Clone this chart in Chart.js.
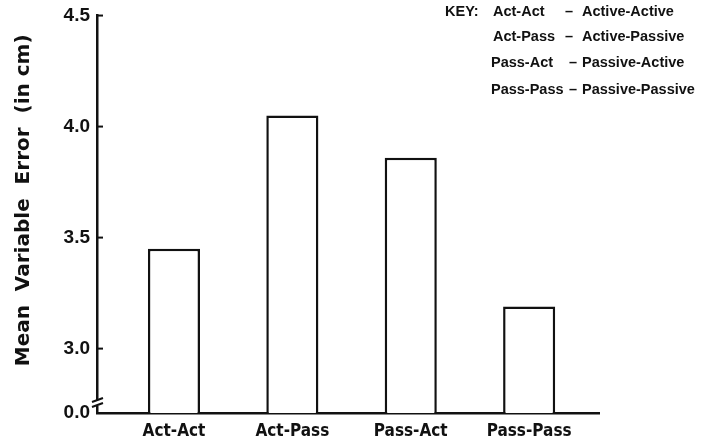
<!DOCTYPE html>
<html>
<head>
<meta charset="utf-8">
<script src="https://cdn.jsdelivr.net/npm/chart.js@4.4.1/dist/chart.umd.min.js"></script>
<style>
  html, body { margin: 0; padding: 0; background: #fff; }
</style>
</head>
<body>
<canvas id="graficoBarras" width="716" height="447"></canvas>
<script>
// Datos
const categorias = ["Act-Act", "Act-Pass", "Pass-Act", "Pass-Pass"];
const valores = [3.45, 4.05, 3.86, 3.19];
const ticksY = [3.0, 3.5, 4.0, 4.5];
const corteY = 2.71; // base del eje roto, se muestra como 0.0
const claveAbrev = ["Act-Act", "Act-Pass", "Pass-Act", "Pass-Pass"];
const claveNombre = ["Active-Active", "Active-Passive", "Passive-Active", "Passive-Passive"];

const tinta = "#111";
const fuente = "'Liberation Sans', Arial, sans-serif";
const fuenteAngosta = "'DejaVu Sans Condensed', 'Liberation Sans', Arial, sans-serif";

// Marcas hacia adentro, corte del eje y la clave
const extras = {
    id: "extras",
    afterDraw(chart) {
        const ctx = chart.ctx;
        const y = chart.scales.y;
        const left = chart.chartArea.left;
        ctx.save();
        ctx.strokeStyle = tinta;
        ctx.lineWidth = 2;
        ticksY.forEach(v => {
            const py = y.getPixelForValue(v);
            ctx.beginPath();
            ctx.moveTo(left, py);
            ctx.lineTo(left + 6, py);
            ctx.stroke();
        });

        // corte del eje
        const pb = y.getPixelForValue(corteY) - 10;
        ctx.fillStyle = "#fff";
        ctx.fillRect(left - 2, pb - 3, 4, 6);
        ctx.beginPath();
        ctx.moveTo(left - 5, pb - 1);
        ctx.lineTo(left + 6, pb - 5);
        ctx.moveTo(left - 5, pb + 4);
        ctx.lineTo(left + 6, pb);
        ctx.stroke();

        // clave
        ctx.fillStyle = tinta;
        ctx.font = "bold 14.5px " + fuente;
        ctx.textBaseline = "middle";
        const filas = [12, 37, 63, 90];
        ctx.fillText("KEY:", 445, filas[0]);
        claveAbrev.forEach((a, i) => {
            const xa = i < 2 ? 493 : 491;
            const xg = i < 2 ? 565 : 569;
            ctx.fillText(a, xa, filas[i]);
            ctx.fillText("\u2013", xg, filas[i]);
            ctx.fillText(claveNombre[i], 582, filas[i]);
        });
        ctx.restore();
    }
};

const ctx = document.getElementById("graficoBarras").getContext("2d");
const chart = new Chart(ctx, {
    type: "bar",
    data: {
        datasets: [{
            data: valores.map((v, i) => ({ x: i, y: v })),
            base: corteY,
            backgroundColor: "#fff",
            borderColor: tinta,
            borderWidth: 2.5,
            borderSkipped: "start",
            barPercentage: 0.44,
            categoryPercentage: 1
        }]
    },
    options: {
        responsive: false,
        animation: false,
        layout: { padding: { top: 9, right: 117, left: 0, bottom: 0 } },
        plugins: {
            legend: { display: false },
            tooltip: { enabled: false }
        },
        scales: {
            x: {
                type: "linear",
                offset: false,
                min: -0.65,
                max: 3.59,
                afterBuildTicks: scale => {
                    scale.ticks = categorias.map((c, i) => ({ value: i }));
                },
                afterFit: scale => { scale.height = 34; },
                grid: { display: false, drawTicks: false },
                border: { display: true, color: tinta, width: 2.5 },
                ticks: {
                    color: tinta,
                    padding: 10,
                    autoSkip: false,
                    maxRotation: 0,
                    font: { family: fuenteAngosta, size: 17, weight: "bold", lineHeight: 1 },
                    callback: v => categorias[v]
                }
            },
            y: {
                min: corteY,
                max: 4.5,
                afterBuildTicks: scale => {
                    scale.ticks = [corteY, ...ticksY].map(v => ({ value: v }));
                },
                afterFit: scale => { scale.width = 97; },
                grid: { display: false, drawTicks: false },
                border: { display: true, color: tinta, width: 2.5 },
                ticks: {
                    color: tinta,
                    padding: 7,
                    font: { family: fuente, size: 19, weight: "bold", lineHeight: 0.9 },
                    callback: v => v < 3 ? "0.0" : v.toFixed(1)
                },
                title: {
                    display: true,
                    text: "    Mean  Variable  Error  (in cm)",
                    color: tinta,
                    padding: { top: 12, bottom: 0 },
                    font: { family: "'DejaVu Sans', sans-serif", size: 20, weight: "bold", lineHeight: 1.2 }
                }
            }
        }
    },
    plugins: [extras]
});
</script>
</body>
</html>
